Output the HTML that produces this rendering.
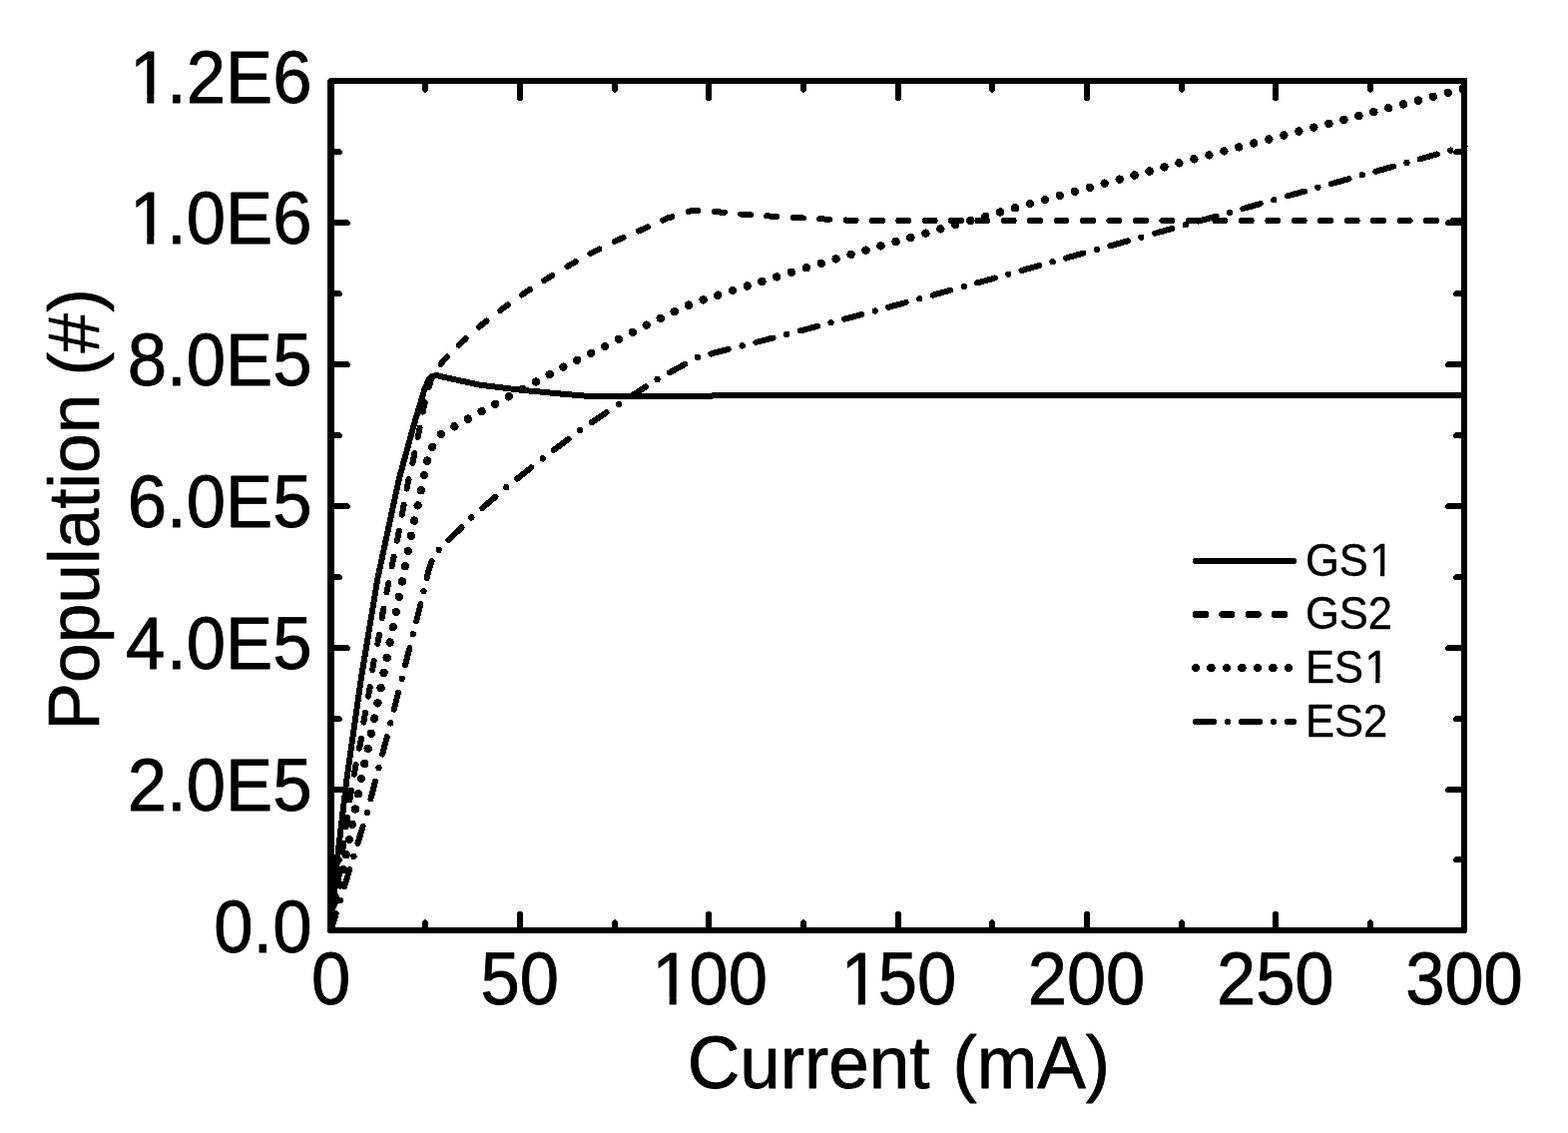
<!DOCTYPE html>
<html lang="en">
<head>
<meta charset="utf-8">
<title>Population vs Current</title>
<style>
html,body{margin:0;padding:0;background:#fff;}
body{width:1571px;height:1135px;overflow:hidden;}
svg{display:block;}
text{font-family:"Liberation Sans", Arial, Helvetica, sans-serif;fill:#000;stroke:#000;stroke-width:0.8px;stroke-linejoin:round;}
text.lg{stroke-width:0.4px;}
text.yt{stroke-width:0.6px;}
.ax{fill:#000;stroke:none;shape-rendering:crispEdges;}
.cv .dt{stroke:none;fill:#000;}
.cv{stroke:#000;fill:none;stroke-linecap:round;stroke-linejoin:round;shape-rendering:crispEdges;}
</style>
</head>
<body>
<svg width="1571" height="1135" viewBox="0 0 1571 1135">
<rect x="0" y="0" width="1571" height="1135" fill="#ffffff"/>
<g class="ax">
<path fill-rule="evenodd" d="M328 80L330 78L1469 78L1470 79L1470 933L1468 935L329 935L328 934ZM335 84L335 929L1464 929L1464 84Z"/>
<path d="M425 921H427V922H425ZM424 922H428V923H424ZM423 923H429V929H423ZM423 84H429V91H423ZM424 91H428V92H424ZM425 92H427V93H425ZM519 913H523V914H519ZM518 914H524V929H518ZM518 84H524V100H518ZM519 100H523V101H519ZM615 921H617V922H615ZM614 922H618V923H614ZM613 923H619V929H613ZM613 84H619V91H613ZM614 91H618V92H614ZM615 92H617V93H615ZM708 913H712V914H708ZM707 914H713V929H707ZM707 84H713V100H707ZM708 100H712V101H708ZM804 921H806V922H804ZM803 922H807V923H803ZM802 923H808V929H802ZM802 84H808V91H802ZM803 91H807V92H803ZM804 92H806V93H804ZM898 913H902V914H898ZM897 914H903V929H897ZM897 84H903V100H897ZM898 100H902V101H898ZM993 921H995V922H993ZM992 922H996V923H992ZM991 923H997V929H991ZM991 84H997V91H991ZM992 91H996V92H992ZM993 92H995V93H993ZM1087 913H1091V914H1087ZM1086 914H1092V929H1086ZM1086 84H1092V100H1086ZM1087 100H1091V101H1087ZM1183 921H1185V922H1183ZM1182 922H1186V923H1182ZM1181 923H1187V929H1181ZM1181 84H1187V91H1181ZM1182 91H1186V92H1182ZM1183 92H1185V93H1183ZM1276 913H1280V914H1276ZM1275 914H1281V929H1275ZM1275 84H1281V100H1275ZM1276 100H1280V101H1276ZM1372 921H1374V922H1372ZM1371 922H1375V923H1371ZM1370 923H1376V929H1370ZM1370 84H1376V91H1370ZM1371 91H1375V92H1371ZM1372 92H1374V93H1372ZM335 858H341V859H335ZM335 859H342V860H335ZM335 860H343V863H335ZM335 863H342V864H335ZM1458 858H1464V859H1458ZM1457 859H1464V860H1457ZM1456 860H1464V863H1456ZM1457 863H1464V864H1457ZM335 788H349V789H335ZM335 789H350V790H335ZM335 790H351V793H335ZM335 793H350V794H335ZM1450 788H1464V789H1450ZM1449 789H1464V790H1449ZM1448 790H1464V793H1448ZM1449 793H1464V794H1449ZM335 717H341V718H335ZM335 718H342V719H335ZM335 719H343V722H335ZM335 722H342V723H335ZM1458 717H1464V718H1458ZM1457 718H1464V719H1457ZM1456 719H1464V722H1456ZM1457 722H1464V723H1457ZM335 646H349V647H335ZM335 647H350V648H335ZM335 648H351V651H335ZM335 651H350V652H335ZM1450 646H1464V647H1450ZM1449 647H1464V648H1449ZM1448 648H1464V651H1448ZM1449 651H1464V652H1449ZM335 575H341V576H335ZM335 576H342V577H335ZM335 577H343V580H335ZM335 580H342V581H335ZM1458 575H1464V576H1458ZM1457 576H1464V577H1457ZM1456 577H1464V580H1456ZM1457 580H1464V581H1457ZM335 504H349V505H335ZM335 505H350V506H335ZM335 506H351V509H335ZM335 509H350V510H335ZM1450 504H1464V505H1450ZM1449 505H1464V506H1449ZM1448 506H1464V509H1448ZM1449 509H1464V510H1449ZM335 433H341V434H335ZM335 434H342V435H335ZM335 435H343V438H335ZM335 438H342V439H335ZM1458 433H1464V434H1458ZM1457 434H1464V435H1457ZM1456 435H1464V438H1456ZM1457 438H1464V439H1457ZM335 362H349V363H335ZM335 363H350V364H335ZM335 364H351V367H335ZM335 367H350V368H335ZM1450 362H1464V363H1450ZM1449 363H1464V364H1449ZM1448 364H1464V367H1448ZM1449 367H1464V368H1449ZM335 291H341V292H335ZM335 292H342V293H335ZM335 293H343V296H335ZM335 296H342V297H335ZM1458 291H1464V292H1458ZM1457 292H1464V293H1457ZM1456 293H1464V296H1456ZM1457 296H1464V297H1457ZM335 220H349V221H335ZM335 221H350V222H335ZM335 222H351V225H335ZM335 225H350V226H335ZM1450 220H1464V221H1450ZM1449 221H1464V222H1449ZM1448 222H1464V225H1448ZM1449 225H1464V226H1449ZM335 149H341V150H335ZM335 150H342V151H335ZM335 151H343V154H335ZM335 154H342V155H335ZM1458 149H1464V150H1458ZM1457 150H1464V151H1457ZM1456 151H1464V154H1456ZM1457 154H1464V155H1457Z"/>
</g>
<g class="cv">
<path d="M331.5 932.0L338.3 857.5L347.5 780.0L361.8 680.0L378.3 580.0L389.0 530.0L399.8 480.0L413.7 429.4L425.1 391.1L429.5 380.5L433.0 377.0L437.1 376.0L445.0 377.8L457.5 380.6L481.0 385.7L521.8 390.7L562.6 394.6L585.0 396.5L600.0 396.9L712.0 396.9L716.0 396.0L1467.0 396.0" stroke-width="6.00"/>
<path class="dt" d="M334.5 932.4L335.8 923.3A3 3 0 0 0 329.9 922.5L328.5 931.6A3 3 0 0 0 334.5 932.4ZM338.2 907.0L339.6 897.2A3 3 0 0 0 333.7 896.3L332.3 906.2A3 3 0 0 0 338.2 907.0ZM342.0 880.9L343.5 871.0A3 3 0 0 0 337.6 870.1L336.1 880.0A3 3 0 0 0 342.0 880.9ZM345.8 854.7L347.2 844.8A3 3 0 0 0 341.3 843.9L339.9 853.8A3 3 0 0 0 345.8 854.7ZM349.6 828.5L351.0 818.6A3 3 0 0 0 345.1 817.7L343.6 827.6A3 3 0 0 0 349.6 828.5ZM353.3 802.2L354.2 796.4A3 3 0 0 0 348.2 795.6L347.4 801.4A3 3 0 0 0 353.3 802.2ZM354.2 796.5L354.9 792.5A3 3 0 0 0 349.0 791.4L348.2 795.5A3 3 0 0 0 354.2 796.5ZM357.8 776.3L359.2 768.5A3 3 0 0 0 353.2 767.5L351.9 775.2A3 3 0 0 0 357.8 776.3ZM359.1 768.6L359.6 766.5A3 3 0 0 0 353.7 765.3L353.3 767.4A3 3 0 0 0 359.1 768.6ZM363.0 750.4L364.2 744.5A3 3 0 0 0 358.4 743.3L357.1 749.2A3 3 0 0 0 363.0 750.4ZM364.3 744.4L364.9 740.4A3 3 0 0 0 358.9 739.5L358.3 743.4A3 3 0 0 0 364.3 744.4ZM367.4 724.1L368.2 718.9A3 3 0 0 0 362.2 717.9L361.4 723.2A3 3 0 0 0 367.4 724.1ZM368.1 719.0L369.0 714.4A3 3 0 0 0 363.1 713.3L362.3 717.8A3 3 0 0 0 368.1 719.0ZM372.0 698.2L373.1 692.3A3 3 0 0 0 367.3 691.1L366.1 697.1A3 3 0 0 0 372.0 698.2ZM373.2 692.1L373.7 688.2A3 3 0 0 0 367.8 687.3L367.2 691.3A3 3 0 0 0 373.2 692.1ZM376.1 671.9L377.1 665.3A3 3 0 0 0 371.1 664.5L370.2 671.0A3 3 0 0 0 376.1 671.9ZM377.0 665.5L377.7 662.2A3 3 0 0 0 371.9 661.0L371.2 664.3A3 3 0 0 0 377.0 665.5ZM381.1 646.1L382.1 641.3A3 3 0 0 0 376.3 640.1L375.3 644.9A3 3 0 0 0 381.1 646.1ZM382.2 641.2L383.0 636.1A3 3 0 0 0 377.1 635.2L376.2 640.2A3 3 0 0 0 382.2 641.2ZM385.6 619.9L386.5 614.5A3 3 0 0 0 380.5 613.5L379.7 618.9A3 3 0 0 0 385.6 619.9ZM386.4 614.6L387.3 610.1A3 3 0 0 0 381.4 609.0L380.6 613.4A3 3 0 0 0 386.4 614.6ZM390.4 593.9L391.0 590.6A3 3 0 0 0 385.2 589.4L384.5 592.8A3 3 0 0 0 390.4 593.9ZM391.0 590.6L392.3 584.2A3 3 0 0 0 386.5 583.0L385.2 589.4A3 3 0 0 0 391.0 590.6ZM395.6 568.0L397.6 558.2A3 3 0 0 0 391.7 557.0L389.7 566.8A3 3 0 0 0 395.6 568.0ZM400.9 542.2L402.4 534.5A3 3 0 0 0 396.6 533.3L395.0 541.0A3 3 0 0 0 400.9 542.2ZM402.5 534.4L402.8 532.3A3 3 0 0 0 396.9 531.2L396.5 533.4A3 3 0 0 0 402.5 534.4ZM405.8 516.2L407.6 506.3A3 3 0 0 0 401.7 505.2L399.9 515.1A3 3 0 0 0 405.8 516.2ZM410.6 490.2L411.4 486.0A3 3 0 0 0 405.4 485.0L404.7 489.1A3 3 0 0 0 410.6 490.2ZM411.3 486.2L412.6 480.5A3 3 0 0 0 406.8 479.2L405.5 484.8A3 3 0 0 0 411.3 486.2ZM416.3 464.5L417.7 458.2A3 3 0 0 0 411.9 456.8L410.4 463.2A3 3 0 0 0 416.3 464.5ZM417.7 458.1L418.4 454.7A3 3 0 0 0 412.5 453.5L411.9 456.9A3 3 0 0 0 417.7 458.1ZM421.5 439.1L422.8 432.6A3 3 0 0 0 417.0 431.4L415.7 437.9A3 3 0 0 0 421.5 439.1ZM422.8 432.6L423.5 429.3A3 3 0 0 0 417.6 428.1L417.0 431.4A3 3 0 0 0 422.8 432.6ZM426.6 413.6L427.9 407.2A3 3 0 0 0 422.1 406.0L420.8 412.5A3 3 0 0 0 426.6 413.6ZM427.9 407.4L428.8 404.1A3 3 0 0 0 423.0 402.5L422.1 405.8A3 3 0 0 0 427.9 407.4ZM432.8 388.7L434.9 380.8A3 3 0 0 0 429.1 379.2L427.0 387.1A3 3 0 0 0 432.8 388.7ZM434.5 381.6L435.5 380.1A3 3 0 0 0 430.5 376.8L429.5 378.4A3 3 0 0 0 434.5 381.6ZM444.2 366.8L446.7 362.9A3 3 0 0 0 441.7 359.7L439.2 363.5A3 3 0 0 0 444.2 366.8ZM446.3 363.4L450.2 359.6A3 3 0 0 0 445.9 355.3L442.1 359.2A3 3 0 0 0 446.3 363.4ZM462.0 347.8L465.4 344.3A3 3 0 0 0 461.2 340.1L457.7 343.5A3 3 0 0 0 462.0 347.8ZM465.3 344.5L469.1 341.1A3 3 0 0 0 465.2 336.6L461.3 339.9A3 3 0 0 0 465.3 344.5ZM481.7 330.1L485.7 326.7A3 3 0 0 0 481.7 322.1L477.8 325.6A3 3 0 0 0 481.7 330.1ZM485.5 326.8L489.3 323.9A3 3 0 0 0 485.7 319.1L481.9 322.0A3 3 0 0 0 485.5 326.8ZM502.6 313.7L507.1 310.3A3 3 0 0 0 503.5 305.5L499.0 309.0A3 3 0 0 0 502.6 313.7ZM507.0 310.3L510.6 307.9A3 3 0 0 0 507.1 303.0L503.6 305.5A3 3 0 0 0 507.0 310.3ZM524.3 298.1L528.6 295.0A3 3 0 0 0 525.2 290.2L520.9 293.2A3 3 0 0 0 524.3 298.1ZM528.5 295.1L532.5 292.6A3 3 0 0 0 529.3 287.5L525.3 290.1A3 3 0 0 0 528.5 295.1ZM546.8 283.6L550.7 281.1A3 3 0 0 0 547.5 276.1L543.6 278.5A3 3 0 0 0 546.8 283.6ZM550.6 281.2L555.2 278.4A3 3 0 0 0 552.1 273.3L547.6 276.0A3 3 0 0 0 550.6 281.2ZM569.7 269.7L573.8 267.2A3 3 0 0 0 570.8 262.0L566.6 264.6A3 3 0 0 0 569.7 269.7ZM573.7 267.2L578.2 264.8A3 3 0 0 0 575.4 259.5L570.9 262.0A3 3 0 0 0 573.7 267.2ZM592.9 256.8L597.1 254.4A3 3 0 0 0 594.3 249.2L590.0 251.5A3 3 0 0 0 592.9 256.8ZM597.0 254.5L601.7 252.2A3 3 0 0 0 599.0 246.8L594.4 249.1A3 3 0 0 0 597.0 254.5ZM616.7 244.8L621.2 242.6A3 3 0 0 0 618.6 237.2L614.0 239.5A3 3 0 0 0 616.7 244.8ZM621.1 242.7L625.6 240.8A3 3 0 0 0 623.3 235.2L618.7 237.1A3 3 0 0 0 621.1 242.7ZM641.0 234.3L645.3 232.5A3 3 0 0 0 642.9 226.9L638.7 228.7A3 3 0 0 0 641.0 234.3ZM645.3 232.4L650.2 230.2A3 3 0 0 0 647.7 224.7L642.9 227.0A3 3 0 0 0 645.3 232.4ZM665.5 223.3L669.5 221.4A3 3 0 0 0 667.1 216.0L663.0 217.8A3 3 0 0 0 665.5 223.3ZM669.2 221.6L674.5 219.9A3 3 0 0 0 672.7 214.2L667.4 215.8A3 3 0 0 0 669.2 221.6ZM690.5 215.0L695.4 213.5A3 3 0 0 0 693.6 207.7L688.7 209.2A3 3 0 0 0 690.5 215.0ZM694.3 213.6L699.2 213.9A3 3 0 0 0 699.6 207.9L694.7 207.6A3 3 0 0 0 694.3 213.6ZM715.5 215.1L720.2 215.4A3 3 0 0 0 720.6 209.4L715.9 209.1A3 3 0 0 0 715.5 215.1ZM720.1 215.4L725.4 215.9A3 3 0 0 0 726.0 209.9L720.7 209.4A3 3 0 0 0 720.1 215.4ZM741.7 217.5L746.1 217.9A3 3 0 0 0 746.7 211.9L742.3 211.5A3 3 0 0 0 741.7 217.5ZM746.2 217.9L751.8 218.3A3 3 0 0 0 752.2 212.3L746.6 211.9A3 3 0 0 0 746.2 217.9ZM768.1 219.3L773.7 219.7A3 3 0 0 0 774.1 213.7L768.5 213.3A3 3 0 0 0 768.1 219.3ZM773.7 219.7L778.1 220.0A3 3 0 0 0 778.5 214.0L774.1 213.7A3 3 0 0 0 773.7 219.7ZM794.5 220.9L799.2 221.2A3 3 0 0 0 799.6 215.2L794.9 214.9A3 3 0 0 0 794.5 220.9ZM799.3 221.2L804.6 221.5A3 3 0 0 0 804.9 215.5L799.5 215.2A3 3 0 0 0 799.3 221.2ZM821.0 222.3L825.9 222.5A3 3 0 0 0 826.1 216.5L821.3 216.3A3 3 0 0 0 821.0 222.3ZM825.9 222.5L831.0 222.7A3 3 0 0 0 831.3 216.7L826.1 216.5A3 3 0 0 0 825.9 222.5ZM847.4 223.5L851.9 223.7A3 3 0 0 0 852.1 217.7L847.7 217.5A3 3 0 0 0 847.4 223.5ZM852.0 223.7L857.5 223.8A3 3 0 0 0 857.6 217.8L852.0 217.7A3 3 0 0 0 852.0 223.7ZM874.0 223.9L880.0 224.0A3 3 0 0 0 880.0 218.0L874.0 217.9A3 3 0 0 0 874.0 223.9ZM880.0 224.0L884.0 224.0A3 3 0 0 0 884.0 218.0L880.0 218.0A3 3 0 0 0 880.0 224.0ZM900.3 224.0L910.3 224.0A3 3 0 0 0 910.3 218.0L900.3 218.0A3 3 0 0 0 900.3 224.0ZM926.7 224.0L936.7 224.0A3 3 0 0 0 936.7 218.0L926.7 218.0A3 3 0 0 0 926.7 224.0ZM953.0 224.0L963.0 224.0A3 3 0 0 0 963.0 218.0L953.0 218.0A3 3 0 0 0 953.0 224.0ZM979.3 224.0L989.3 224.0A3 3 0 0 0 989.3 218.0L979.3 218.0A3 3 0 0 0 979.3 224.0ZM1005.7 224.0L1015.7 224.0A3 3 0 0 0 1015.7 218.0L1005.7 218.0A3 3 0 0 0 1005.7 224.0ZM1032.0 224.0L1042.0 224.0A3 3 0 0 0 1042.0 218.0L1032.0 218.0A3 3 0 0 0 1032.0 224.0ZM1058.5 224.0L1068.5 224.0A3 3 0 0 0 1068.5 218.0L1058.5 218.0A3 3 0 0 0 1058.5 224.0ZM1084.9 224.0L1094.9 224.0A3 3 0 0 0 1094.9 218.0L1084.9 218.0A3 3 0 0 0 1084.9 224.0ZM1111.4 224.0L1121.4 224.0A3 3 0 0 0 1121.4 218.0L1111.4 218.0A3 3 0 0 0 1111.4 224.0ZM1137.9 224.0L1147.9 224.0A3 3 0 0 0 1147.9 218.0L1137.9 218.0A3 3 0 0 0 1137.9 224.0ZM1164.4 224.0L1174.4 224.0A3 3 0 0 0 1174.4 218.0L1164.4 218.0A3 3 0 0 0 1164.4 224.0ZM1190.8 224.0L1200.8 224.0A3 3 0 0 0 1200.8 218.0L1190.8 218.0A3 3 0 0 0 1190.8 224.0ZM1217.3 224.0L1227.3 224.0A3 3 0 0 0 1227.3 218.0L1217.3 218.0A3 3 0 0 0 1217.3 224.0ZM1243.8 224.0L1253.8 224.0A3 3 0 0 0 1253.8 218.0L1243.8 218.0A3 3 0 0 0 1243.8 224.0ZM1270.3 224.0L1280.3 224.0A3 3 0 0 0 1280.3 218.0L1270.3 218.0A3 3 0 0 0 1270.3 224.0ZM1296.7 224.0L1306.7 224.0A3 3 0 0 0 1306.7 218.0L1296.7 218.0A3 3 0 0 0 1296.7 224.0ZM1323.2 224.0L1333.2 224.0A3 3 0 0 0 1333.2 218.0L1323.2 218.0A3 3 0 0 0 1323.2 224.0ZM1349.7 224.0L1359.7 224.0A3 3 0 0 0 1359.7 218.0L1349.7 218.0A3 3 0 0 0 1349.7 224.0ZM1376.2 224.0L1386.2 224.0A3 3 0 0 0 1386.2 218.0L1376.2 218.0A3 3 0 0 0 1376.2 224.0ZM1402.6 224.0L1412.6 224.0A3 3 0 0 0 1412.6 218.0L1402.6 218.0A3 3 0 0 0 1402.6 224.0ZM1429.1 224.0L1439.1 224.0A3 3 0 0 0 1439.1 218.0L1429.1 218.0A3 3 0 0 0 1429.1 224.0ZM1455.6 224.0L1465.6 224.0A3 3 0 0 0 1465.6 218.0L1455.6 218.0A3 3 0 0 0 1455.6 224.0Z"/>
<path class="dt" d="M330.3 916.9a4.25 4.25 0 1 0 8.5 0a4.25 4.25 0 1 0 -8.5 0zM333.4 901.7a4.25 4.25 0 1 0 8.5 0a4.25 4.25 0 1 0 -8.5 0zM336.5 886.5a4.25 4.25 0 1 0 8.5 0a4.25 4.25 0 1 0 -8.5 0zM339.6 871.3a4.25 4.25 0 1 0 8.5 0a4.25 4.25 0 1 0 -8.5 0zM342.7 856.2a4.25 4.25 0 1 0 8.5 0a4.25 4.25 0 1 0 -8.5 0zM345.7 841.0a4.25 4.25 0 1 0 8.5 0a4.25 4.25 0 1 0 -8.5 0zM348.7 825.7a4.25 4.25 0 1 0 8.5 0a4.25 4.25 0 1 0 -8.5 0zM351.7 810.5a4.25 4.25 0 1 0 8.5 0a4.25 4.25 0 1 0 -8.5 0zM354.8 795.3a4.25 4.25 0 1 0 8.5 0a4.25 4.25 0 1 0 -8.5 0zM357.8 780.1a4.25 4.25 0 1 0 8.5 0a4.25 4.25 0 1 0 -8.5 0zM361.1 765.0a4.25 4.25 0 1 0 8.5 0a4.25 4.25 0 1 0 -8.5 0zM364.4 749.9a4.25 4.25 0 1 0 8.5 0a4.25 4.25 0 1 0 -8.5 0zM367.7 734.7a4.25 4.25 0 1 0 8.5 0a4.25 4.25 0 1 0 -8.5 0zM370.9 719.6a4.25 4.25 0 1 0 8.5 0a4.25 4.25 0 1 0 -8.5 0zM374.2 704.4a4.25 4.25 0 1 0 8.5 0a4.25 4.25 0 1 0 -8.5 0zM377.3 689.2a4.25 4.25 0 1 0 8.5 0a4.25 4.25 0 1 0 -8.5 0zM380.3 674.0a4.25 4.25 0 1 0 8.5 0a4.25 4.25 0 1 0 -8.5 0zM383.4 658.8a4.25 4.25 0 1 0 8.5 0a4.25 4.25 0 1 0 -8.5 0zM386.5 643.5a4.25 4.25 0 1 0 8.5 0a4.25 4.25 0 1 0 -8.5 0zM389.5 628.3a4.25 4.25 0 1 0 8.5 0a4.25 4.25 0 1 0 -8.5 0zM392.6 613.0a4.25 4.25 0 1 0 8.5 0a4.25 4.25 0 1 0 -8.5 0zM395.6 597.8a4.25 4.25 0 1 0 8.5 0a4.25 4.25 0 1 0 -8.5 0zM398.6 582.5a4.25 4.25 0 1 0 8.5 0a4.25 4.25 0 1 0 -8.5 0zM401.6 567.3a4.25 4.25 0 1 0 8.5 0a4.25 4.25 0 1 0 -8.5 0zM404.6 552.0a4.25 4.25 0 1 0 8.5 0a4.25 4.25 0 1 0 -8.5 0zM407.7 536.8a4.25 4.25 0 1 0 8.5 0a4.25 4.25 0 1 0 -8.5 0zM411.0 521.6a4.25 4.25 0 1 0 8.5 0a4.25 4.25 0 1 0 -8.5 0zM414.4 506.4a4.25 4.25 0 1 0 8.5 0a4.25 4.25 0 1 0 -8.5 0zM417.7 491.2a4.25 4.25 0 1 0 8.5 0a4.25 4.25 0 1 0 -8.5 0zM420.9 476.0a4.25 4.25 0 1 0 8.5 0a4.25 4.25 0 1 0 -8.5 0zM423.9 461.6a4.25 4.25 0 1 0 8.5 0a4.25 4.25 0 1 0 -8.5 0zM428.9 447.8a4.25 4.25 0 1 0 8.5 0a4.25 4.25 0 1 0 -8.5 0zM437.6 435.0a4.25 4.25 0 1 0 8.5 0a4.25 4.25 0 1 0 -8.5 0zM451.1 427.3a4.25 4.25 0 1 0 8.5 0a4.25 4.25 0 1 0 -8.5 0zM464.6 419.6a4.25 4.25 0 1 0 8.5 0a4.25 4.25 0 1 0 -8.5 0zM478.3 412.2a4.25 4.25 0 1 0 8.5 0a4.25 4.25 0 1 0 -8.5 0zM491.9 404.8a4.25 4.25 0 1 0 8.5 0a4.25 4.25 0 1 0 -8.5 0zM505.5 397.3a4.25 4.25 0 1 0 8.5 0a4.25 4.25 0 1 0 -8.5 0zM519.1 389.9a4.25 4.25 0 1 0 8.5 0a4.25 4.25 0 1 0 -8.5 0zM532.8 382.5a4.25 4.25 0 1 0 8.5 0a4.25 4.25 0 1 0 -8.5 0zM546.4 375.1a4.25 4.25 0 1 0 8.5 0a4.25 4.25 0 1 0 -8.5 0zM560.1 367.7a4.25 4.25 0 1 0 8.5 0a4.25 4.25 0 1 0 -8.5 0zM574.0 360.8a4.25 4.25 0 1 0 8.5 0a4.25 4.25 0 1 0 -8.5 0zM587.9 353.9a4.25 4.25 0 1 0 8.5 0a4.25 4.25 0 1 0 -8.5 0zM601.8 346.9a4.25 4.25 0 1 0 8.5 0a4.25 4.25 0 1 0 -8.5 0zM615.6 339.9a4.25 4.25 0 1 0 8.5 0a4.25 4.25 0 1 0 -8.5 0zM629.5 332.8a4.25 4.25 0 1 0 8.5 0a4.25 4.25 0 1 0 -8.5 0zM643.4 325.7a4.25 4.25 0 1 0 8.5 0a4.25 4.25 0 1 0 -8.5 0zM657.4 318.9a4.25 4.25 0 1 0 8.5 0a4.25 4.25 0 1 0 -8.5 0zM671.4 312.1a4.25 4.25 0 1 0 8.5 0a4.25 4.25 0 1 0 -8.5 0zM685.6 305.6a4.25 4.25 0 1 0 8.5 0a4.25 4.25 0 1 0 -8.5 0zM700.3 300.3a4.25 4.25 0 1 0 8.5 0a4.25 4.25 0 1 0 -8.5 0zM715.0 295.7a4.25 4.25 0 1 0 8.5 0a4.25 4.25 0 1 0 -8.5 0zM729.7 291.1a4.25 4.25 0 1 0 8.5 0a4.25 4.25 0 1 0 -8.5 0zM744.5 286.5a4.25 4.25 0 1 0 8.5 0a4.25 4.25 0 1 0 -8.5 0zM759.2 282.0a4.25 4.25 0 1 0 8.5 0a4.25 4.25 0 1 0 -8.5 0zM774.0 277.4a4.25 4.25 0 1 0 8.5 0a4.25 4.25 0 1 0 -8.5 0zM788.7 272.8a4.25 4.25 0 1 0 8.5 0a4.25 4.25 0 1 0 -8.5 0zM803.6 268.3a4.25 4.25 0 1 0 8.5 0a4.25 4.25 0 1 0 -8.5 0zM818.5 263.8a4.25 4.25 0 1 0 8.5 0a4.25 4.25 0 1 0 -8.5 0zM833.4 259.3a4.25 4.25 0 1 0 8.5 0a4.25 4.25 0 1 0 -8.5 0zM848.3 254.8a4.25 4.25 0 1 0 8.5 0a4.25 4.25 0 1 0 -8.5 0zM863.3 250.6a4.25 4.25 0 1 0 8.5 0a4.25 4.25 0 1 0 -8.5 0zM878.3 246.4a4.25 4.25 0 1 0 8.5 0a4.25 4.25 0 1 0 -8.5 0zM893.3 242.1a4.25 4.25 0 1 0 8.5 0a4.25 4.25 0 1 0 -8.5 0zM908.2 237.9a4.25 4.25 0 1 0 8.5 0a4.25 4.25 0 1 0 -8.5 0zM923.2 233.7a4.25 4.25 0 1 0 8.5 0a4.25 4.25 0 1 0 -8.5 0zM938.1 229.4a4.25 4.25 0 1 0 8.5 0a4.25 4.25 0 1 0 -8.5 0zM953.0 225.2a4.25 4.25 0 1 0 8.5 0a4.25 4.25 0 1 0 -8.5 0zM968.0 221.0a4.25 4.25 0 1 0 8.5 0a4.25 4.25 0 1 0 -8.5 0zM982.9 216.8a4.25 4.25 0 1 0 8.5 0a4.25 4.25 0 1 0 -8.5 0zM997.9 212.5a4.25 4.25 0 1 0 8.5 0a4.25 4.25 0 1 0 -8.5 0zM1012.8 208.3a4.25 4.25 0 1 0 8.5 0a4.25 4.25 0 1 0 -8.5 0zM1027.8 204.1a4.25 4.25 0 1 0 8.5 0a4.25 4.25 0 1 0 -8.5 0zM1042.7 200.0a4.25 4.25 0 1 0 8.5 0a4.25 4.25 0 1 0 -8.5 0zM1057.6 195.9a4.25 4.25 0 1 0 8.5 0a4.25 4.25 0 1 0 -8.5 0zM1072.6 191.9a4.25 4.25 0 1 0 8.5 0a4.25 4.25 0 1 0 -8.5 0zM1087.5 187.8a4.25 4.25 0 1 0 8.5 0a4.25 4.25 0 1 0 -8.5 0zM1102.4 183.7a4.25 4.25 0 1 0 8.5 0a4.25 4.25 0 1 0 -8.5 0zM1117.4 179.6a4.25 4.25 0 1 0 8.5 0a4.25 4.25 0 1 0 -8.5 0zM1132.3 175.5a4.25 4.25 0 1 0 8.5 0a4.25 4.25 0 1 0 -8.5 0zM1147.3 171.5a4.25 4.25 0 1 0 8.5 0a4.25 4.25 0 1 0 -8.5 0zM1162.2 167.4a4.25 4.25 0 1 0 8.5 0a4.25 4.25 0 1 0 -8.5 0zM1177.1 163.3a4.25 4.25 0 1 0 8.5 0a4.25 4.25 0 1 0 -8.5 0zM1192.1 159.3a4.25 4.25 0 1 0 8.5 0a4.25 4.25 0 1 0 -8.5 0zM1207.1 155.4a4.25 4.25 0 1 0 8.5 0a4.25 4.25 0 1 0 -8.5 0zM1222.1 151.4a4.25 4.25 0 1 0 8.5 0a4.25 4.25 0 1 0 -8.5 0zM1237.0 147.4a4.25 4.25 0 1 0 8.5 0a4.25 4.25 0 1 0 -8.5 0zM1252.0 143.5a4.25 4.25 0 1 0 8.5 0a4.25 4.25 0 1 0 -8.5 0zM1267.1 139.5a4.25 4.25 0 1 0 8.5 0a4.25 4.25 0 1 0 -8.5 0zM1282.1 135.5a4.25 4.25 0 1 0 8.5 0a4.25 4.25 0 1 0 -8.5 0zM1297.1 131.5a4.25 4.25 0 1 0 8.5 0a4.25 4.25 0 1 0 -8.5 0zM1312.1 127.6a4.25 4.25 0 1 0 8.5 0a4.25 4.25 0 1 0 -8.5 0zM1327.2 123.8a4.25 4.25 0 1 0 8.5 0a4.25 4.25 0 1 0 -8.5 0zM1342.2 119.9a4.25 4.25 0 1 0 8.5 0a4.25 4.25 0 1 0 -8.5 0zM1357.2 116.0a4.25 4.25 0 1 0 8.5 0a4.25 4.25 0 1 0 -8.5 0zM1372.1 112.1a4.25 4.25 0 1 0 8.5 0a4.25 4.25 0 1 0 -8.5 0zM1387.0 108.3a4.25 4.25 0 1 0 8.5 0a4.25 4.25 0 1 0 -8.5 0zM1401.9 104.4a4.25 4.25 0 1 0 8.5 0a4.25 4.25 0 1 0 -8.5 0zM1416.8 100.6a4.25 4.25 0 1 0 8.5 0a4.25 4.25 0 1 0 -8.5 0zM1431.7 96.7a4.25 4.25 0 1 0 8.5 0a4.25 4.25 0 1 0 -8.5 0zM1446.6 92.9a4.25 4.25 0 1 0 8.5 0a4.25 4.25 0 1 0 -8.5 0zM1461.5 89.0a4.25 4.25 0 1 0 8.5 0a4.25 4.25 0 1 0 -8.5 0z"/>
<path class="dt" d="M334.4 932.9L339.6 916.0A3 3 0 0 0 333.9 914.2L328.6 931.1A3 3 0 0 0 334.4 932.9ZM347.8 889.5L353.2 872.1A3 3 0 0 0 347.4 870.3L342.1 887.7A3 3 0 0 0 347.8 889.5ZM361.4 845.6L361.5 845.3A3 3 0 0 0 355.7 843.5L355.6 843.8A3 3 0 0 0 361.4 845.6ZM361.5 845.3L366.6 828.1A3 3 0 0 0 360.9 826.4L355.7 843.5A3 3 0 0 0 361.5 845.3ZM374.3 801.2L378.9 783.6A3 3 0 0 0 373.1 782.0L368.5 799.6A3 3 0 0 0 374.3 801.2ZM386.1 756.4L390.7 738.8A3 3 0 0 0 384.9 737.3L380.3 754.9A3 3 0 0 0 386.1 756.4ZM397.7 711.8L402.1 694.1A3 3 0 0 0 396.3 692.7L391.9 710.3A3 3 0 0 0 397.7 711.8ZM408.9 667.3L413.4 649.6A3 3 0 0 0 407.6 648.2L403.1 665.8A3 3 0 0 0 408.9 667.3ZM420.0 623.4L424.4 605.8A3 3 0 0 0 418.6 604.3L414.2 622.0A3 3 0 0 0 420.0 623.4ZM430.5 580.2L432.9 570.2A3 3 0 0 0 427.1 568.8L424.7 578.8A3 3 0 0 0 430.5 580.2ZM432.8 570.5L435.5 563.0A3 3 0 0 0 429.8 561.0L427.2 568.5A3 3 0 0 0 432.8 570.5ZM451.6 543.3L464.6 530.5A3 3 0 0 0 460.3 526.2L447.4 539.0A3 3 0 0 0 451.6 543.3ZM484.9 511.6L498.7 499.7A3 3 0 0 0 494.8 495.2L481.0 507.1A3 3 0 0 0 484.9 511.6ZM520.2 481.9L534.4 470.6A3 3 0 0 0 530.7 465.9L516.4 477.2A3 3 0 0 0 520.2 481.9ZM556.8 453.3L571.4 442.3A3 3 0 0 0 567.7 437.5L553.2 448.5A3 3 0 0 0 556.8 453.3ZM594.6 425.7L609.6 415.4A3 3 0 0 0 606.3 410.5L591.2 420.7A3 3 0 0 0 594.6 425.7ZM633.1 399.9L648.4 390.0A3 3 0 0 0 645.2 384.9L629.9 394.8A3 3 0 0 0 633.1 399.9ZM672.1 376.0L688.0 367.2A3 3 0 0 0 685.1 362.0L669.2 370.7A3 3 0 0 0 672.1 376.0ZM713.1 357.4L730.7 352.8A3 3 0 0 0 729.2 347.0L711.6 351.5A3 3 0 0 0 713.1 357.4ZM757.9 345.9L775.5 341.4A3 3 0 0 0 774.0 335.6L756.4 340.1A3 3 0 0 0 757.9 345.9ZM802.4 334.4L820.0 329.7A3 3 0 0 0 818.5 323.9L800.9 328.6A3 3 0 0 0 802.4 334.4ZM846.6 322.6L864.2 318.0A3 3 0 0 0 862.7 312.2L845.1 316.8A3 3 0 0 0 846.6 322.6ZM891.0 310.7L908.6 305.9A3 3 0 0 0 907.0 300.1L889.4 304.9A3 3 0 0 0 891.0 310.7ZM935.6 298.5L953.1 293.7A3 3 0 0 0 951.5 287.9L934.0 292.7A3 3 0 0 0 935.6 298.5ZM980.0 286.3L997.6 281.4A3 3 0 0 0 995.9 275.6L978.4 280.5A3 3 0 0 0 980.0 286.3ZM1024.3 273.9L1041.9 269.0A3 3 0 0 0 1040.3 263.2L1022.7 268.1A3 3 0 0 0 1024.3 273.9ZM1068.7 261.5L1086.2 256.6A3 3 0 0 0 1084.6 250.8L1067.1 255.7A3 3 0 0 0 1068.7 261.5ZM1113.1 249.2L1130.6 244.3A3 3 0 0 0 1129.0 238.5L1111.5 243.4A3 3 0 0 0 1113.1 249.2ZM1157.4 236.8L1175.0 231.9A3 3 0 0 0 1173.3 226.1L1155.8 231.1A3 3 0 0 0 1157.4 236.8ZM1201.8 224.4L1219.3 219.5A3 3 0 0 0 1217.7 213.7L1200.1 218.6A3 3 0 0 0 1201.8 224.4ZM1246.1 211.9L1263.6 207.0A3 3 0 0 0 1262.0 201.2L1244.4 206.1A3 3 0 0 0 1246.1 211.9ZM1290.3 199.4L1307.9 194.5A3 3 0 0 0 1306.2 188.7L1288.7 193.7A3 3 0 0 0 1290.3 199.4ZM1334.7 187.0L1352.3 182.1A3 3 0 0 0 1350.6 176.3L1333.1 181.2A3 3 0 0 0 1334.7 187.0ZM1379.2 174.6L1396.8 169.7A3 3 0 0 0 1395.1 163.9L1377.6 168.8A3 3 0 0 0 1379.2 174.6ZM1423.4 162.2L1441.0 157.2A3 3 0 0 0 1439.3 151.5L1421.8 156.4A3 3 0 0 0 1423.4 162.2ZM1467.5 149.8L1468.3 149.6A3 3 0 0 0 1466.7 143.8L1465.9 144.0A3 3 0 0 0 1467.5 149.8Z"/>
<path class="dt" d="M337.7 901.8a3.15 3.15 0 1 0 6.3 0a3.15 3.15 0 1 0 -6.3 0zM351.3 857.9a3.15 3.15 0 1 0 6.3 0a3.15 3.15 0 1 0 -6.3 0zM364.7 813.9a3.15 3.15 0 1 0 6.3 0a3.15 3.15 0 1 0 -6.3 0zM376.4 769.1a3.15 3.15 0 1 0 6.3 0a3.15 3.15 0 1 0 -6.3 0zM388.2 724.4a3.15 3.15 0 1 0 6.3 0a3.15 3.15 0 1 0 -6.3 0zM399.5 679.9a3.15 3.15 0 1 0 6.3 0a3.15 3.15 0 1 0 -6.3 0zM410.8 635.4a3.15 3.15 0 1 0 6.3 0a3.15 3.15 0 1 0 -6.3 0zM421.4 592.2a3.15 3.15 0 1 0 6.3 0a3.15 3.15 0 1 0 -6.3 0zM436.5 550.9a3.15 3.15 0 1 0 6.3 0a3.15 3.15 0 1 0 -6.3 0zM469.3 518.5a3.15 3.15 0 1 0 6.3 0a3.15 3.15 0 1 0 -6.3 0zM504.2 488.2a3.15 3.15 0 1 0 6.3 0a3.15 3.15 0 1 0 -6.3 0zM540.5 459.5a3.15 3.15 0 1 0 6.3 0a3.15 3.15 0 1 0 -6.3 0zM577.9 431.2a3.15 3.15 0 1 0 6.3 0a3.15 3.15 0 1 0 -6.3 0zM616.8 404.8a3.15 3.15 0 1 0 6.3 0a3.15 3.15 0 1 0 -6.3 0zM655.4 380.0a3.15 3.15 0 1 0 6.3 0a3.15 3.15 0 1 0 -6.3 0zM695.6 357.9a3.15 3.15 0 1 0 6.3 0a3.15 3.15 0 1 0 -6.3 0zM740.4 346.4a3.15 3.15 0 1 0 6.3 0a3.15 3.15 0 1 0 -6.3 0zM785.2 335.0a3.15 3.15 0 1 0 6.3 0a3.15 3.15 0 1 0 -6.3 0zM829.4 323.2a3.15 3.15 0 1 0 6.3 0a3.15 3.15 0 1 0 -6.3 0zM873.6 311.5a3.15 3.15 0 1 0 6.3 0a3.15 3.15 0 1 0 -6.3 0zM918.2 299.3a3.15 3.15 0 1 0 6.3 0a3.15 3.15 0 1 0 -6.3 0zM962.8 287.1a3.15 3.15 0 1 0 6.3 0a3.15 3.15 0 1 0 -6.3 0zM1007.1 274.7a3.15 3.15 0 1 0 6.3 0a3.15 3.15 0 1 0 -6.3 0zM1051.4 262.3a3.15 3.15 0 1 0 6.3 0a3.15 3.15 0 1 0 -6.3 0zM1095.8 250.0a3.15 3.15 0 1 0 6.3 0a3.15 3.15 0 1 0 -6.3 0zM1140.1 237.7a3.15 3.15 0 1 0 6.3 0a3.15 3.15 0 1 0 -6.3 0zM1184.5 225.2a3.15 3.15 0 1 0 6.3 0a3.15 3.15 0 1 0 -6.3 0zM1228.8 212.8a3.15 3.15 0 1 0 6.3 0a3.15 3.15 0 1 0 -6.3 0zM1273.1 200.3a3.15 3.15 0 1 0 6.3 0a3.15 3.15 0 1 0 -6.3 0zM1317.3 187.8a3.15 3.15 0 1 0 6.3 0a3.15 3.15 0 1 0 -6.3 0zM1361.8 175.4a3.15 3.15 0 1 0 6.3 0a3.15 3.15 0 1 0 -6.3 0zM1406.3 163.0a3.15 3.15 0 1 0 6.3 0a3.15 3.15 0 1 0 -6.3 0zM1450.2 150.6a3.15 3.15 0 1 0 6.3 0a3.15 3.15 0 1 0 -6.3 0z"/>
<path d="M1198.0 562H1296.2" stroke-width="6"/>
<path class="dt" d="M1198.4 619.0L1207.6 619.0A3.5 3.5 0 0 0 1207.6 612.0L1198.4 612.0A3.5 3.5 0 0 0 1198.4 619.0ZM1224.7 619.0L1233.9 619.0A3.5 3.5 0 0 0 1233.9 612.0L1224.7 612.0A3.5 3.5 0 0 0 1224.7 619.0ZM1251.1 619.0L1260.3 619.0A3.5 3.5 0 0 0 1260.3 612.0L1251.1 612.0A3.5 3.5 0 0 0 1251.1 619.0ZM1277.4 619.0L1286.6 619.0A3.5 3.5 0 0 0 1286.6 612.0L1277.4 612.0A3.5 3.5 0 0 0 1277.4 619.0Z"/>
<path class="dt" d="M1193.8 669.0a4.25 4.25 0 1 0 8.5 0a4.25 4.25 0 1 0 -8.5 0zM1209.2 669.0a4.25 4.25 0 1 0 8.5 0a4.25 4.25 0 1 0 -8.5 0zM1224.8 669.0a4.25 4.25 0 1 0 8.5 0a4.25 4.25 0 1 0 -8.5 0zM1240.2 669.0a4.25 4.25 0 1 0 8.5 0a4.25 4.25 0 1 0 -8.5 0zM1255.8 669.0a4.25 4.25 0 1 0 8.5 0a4.25 4.25 0 1 0 -8.5 0zM1271.2 669.0a4.25 4.25 0 1 0 8.5 0a4.25 4.25 0 1 0 -8.5 0zM1286.8 669.0a4.25 4.25 0 1 0 8.5 0a4.25 4.25 0 1 0 -8.5 0z"/>
<path class="dt" d="M1198.0 726.0L1216.2 726.0A3 3 0 0 0 1216.2 720.0L1198.0 720.0A3 3 0 0 0 1198.0 726.0ZM1243.8 726.0L1262.0 726.0A3 3 0 0 0 1262.0 720.0L1243.8 720.0A3 3 0 0 0 1243.8 726.0ZM1289.7 726.0L1296.2 726.0A3 3 0 0 0 1296.2 720.0L1289.7 720.0A3 3 0 0 0 1289.7 726.0Z"/>
<path class="dt" d="M1226.9 723.0a3.15 3.15 0 1 0 6.3 0a3.15 3.15 0 1 0 -6.3 0zM1272.8 723.0a3.15 3.15 0 1 0 6.3 0a3.15 3.15 0 1 0 -6.3 0z"/>
</g>
<g>
<text transform="translate(312.50 953.50) scale(0.9820 1.0270)" font-size="72.00" text-anchor="end">0.0</text>
<text transform="translate(312.50 811.67) scale(0.9820 1.0270)" font-size="72.00" text-anchor="end">2.0E5</text>
<g transform="translate(312.50 669.84) scale(0.9820 1.0270)"><text dx="-1.69 1.69" x="1.69" font-size="72.00" text-anchor="end">4.0E5</text></g>
<text transform="translate(312.50 528.01) scale(0.9820 1.0270)" font-size="72.00" text-anchor="end">6.0E5</text>
<text transform="translate(312.50 386.18) scale(0.9820 1.0270)" font-size="72.00" text-anchor="end">8.0E5</text>
<g transform="translate(312.50 244.35) scale(0.9820 1.0270)"><text dx="2.21 -2.21" x="-2.21" font-size="72.00" text-anchor="end">1.0E6</text><rect x="-182.46" y="-6.98" width="14.22" height="8.98" fill="#fff"/><rect x="-161.07" y="-6.98" width="13.66" height="8.98" fill="#fff"/></g>
<g transform="translate(312.50 102.52) scale(0.9820 1.0270)"><text dx="2.21 -2.21" x="-2.21" font-size="72.00" text-anchor="end">1.2E6</text><rect x="-182.46" y="-6.98" width="14.22" height="8.98" fill="#fff"/><rect x="-161.07" y="-6.98" width="13.66" height="8.98" fill="#fff"/></g>
<text transform="translate(331.50 1006.20) scale(0.9800 1.0250)" font-size="72.00" text-anchor="middle">0</text>
<text transform="translate(520.75 1006.20) scale(0.9800 1.0250)" font-size="72.00" text-anchor="middle">50</text>
<g transform="translate(710.00 1006.20) scale(0.9800 1.0250)"><text dx="2.21 -2.21" x="-1.11" font-size="72.00" text-anchor="middle">100</text><rect x="-54.37" y="-6.98" width="14.22" height="8.98" fill="#fff"/><rect x="-32.98" y="-6.98" width="13.66" height="8.98" fill="#fff"/></g>
<g transform="translate(899.25 1006.20) scale(0.9800 1.0250)"><text dx="2.21 -2.21" x="-1.11" font-size="72.00" text-anchor="middle">150</text><rect x="-54.37" y="-6.98" width="14.22" height="8.98" fill="#fff"/><rect x="-32.98" y="-6.98" width="13.66" height="8.98" fill="#fff"/></g>
<text transform="translate(1088.50 1006.20) scale(0.9800 1.0250)" font-size="72.00" text-anchor="middle">200</text>
<text transform="translate(1277.75 1006.20) scale(0.9800 1.0250)" font-size="72.00" text-anchor="middle">250</text>
<text transform="translate(1467.00 1006.20) scale(0.9800 1.0250)" font-size="72.00" text-anchor="middle">300</text>
<text word-spacing="2.8" transform="translate(900.40 1089.60) scale(1.0110 1.0250)" font-size="72.00" text-anchor="middle">Current (mA)</text>
<g transform="translate(99.30 510.20) rotate(-90) scale(0.9900 1.0000)"><text class="yt" dx="0 0 0 0 0 0 0 0 0 0 0 -1.6 -0.8 1.2" font-size="72.00" text-anchor="middle">Population (#)</text></g>
<g transform="translate(1308.00 576.50) scale(1.0120 1.0650)"><text class="lg" dx="0 0 1.32" font-size="43.00" text-anchor="start">GS1</text><rect x="64.73" y="-4.61" width="9.34" height="6.61" fill="#fff"/><rect x="78.26" y="-4.61" width="9.00" height="6.61" fill="#fff"/></g>
<text class="lg" transform="translate(1308.00 630.20) scale(1.0120 1.0650)" font-size="43.00" text-anchor="start">GS2</text>
<g transform="translate(1308.00 683.90) scale(1.0120 1.0650)"><text class="lg" dx="0 0 1.32" font-size="43.00" text-anchor="start">ES1</text><rect x="59.96" y="-4.61" width="9.34" height="6.61" fill="#fff"/><rect x="73.50" y="-4.61" width="9.00" height="6.61" fill="#fff"/></g>
<text class="lg" transform="translate(1308.00 737.60) scale(1.0120 1.0650)" font-size="43.00" text-anchor="start">ES2</text>
</g>
</svg>
</body>
</html>
